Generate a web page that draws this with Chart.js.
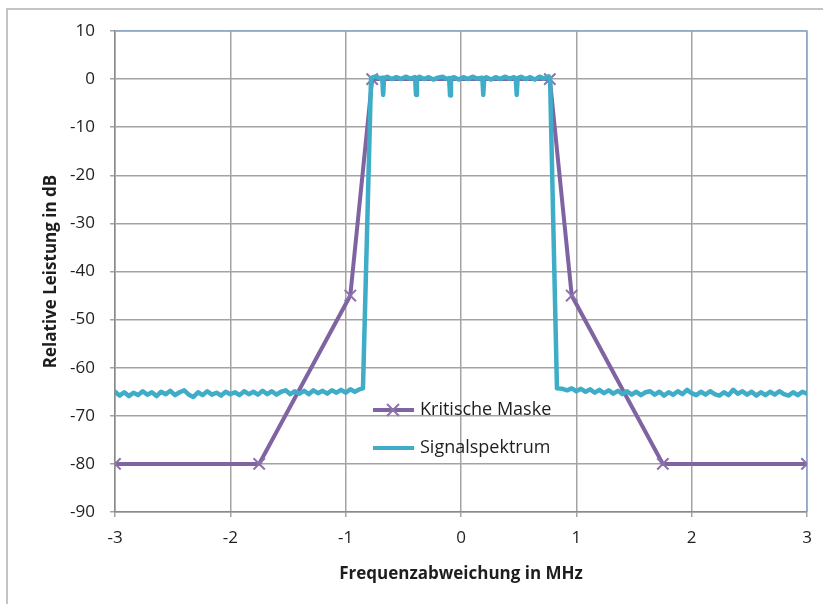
<!DOCTYPE html>
<html>
<head>
<meta charset="utf-8">
<script src="https://cdn.jsdelivr.net/npm/chart.js@4.4.1/dist/chart.umd.min.js"></script>
<style>
    html, body { margin: 0; padding: 0; background: #fff; }
</style>
</head>
<body>
<canvas id="spectrum-chart" width="823" height="604"></canvas>
<script>
// Kritische Maske (Frequenz in MHz, Pegel in dB)
const maskX = [-3, -1.75, -0.96, -0.77, 0.77, 0.96, 1.75, 3];
const maskY = [-80, -80, -45, 0, 0, -45, -80, -80];

// Signalspektrum, links vom Kanal
const signalLeftX = [-3.00, -2.96, -2.92, -2.88, -2.84, -2.80, -2.76, -2.72, -2.68, -2.64,
    -2.60, -2.56, -2.52, -2.48, -2.44, -2.40, -2.36, -2.32, -2.28, -2.24,
    -2.20, -2.16, -2.12, -2.08, -2.04, -2.00, -1.96, -1.92, -1.88, -1.84,
    -1.80, -1.76, -1.72, -1.68, -1.64, -1.60, -1.56, -1.52, -1.48, -1.44,
    -1.40, -1.36, -1.32, -1.28, -1.24, -1.20, -1.16, -1.12, -1.08, -1.04,
    -1.00, -0.96, -0.92, -0.88, -0.85];
const signalLeftY = [-65.0, -65.8, -65.1, -65.9, -65.2, -65.7, -64.9, -65.6, -65.1, -65.9,
    -65.0, -65.5, -64.8, -65.7, -65.1, -64.7, -65.6, -66.1, -65.1, -65.7,
    -64.9, -65.6, -65.2, -65.8, -65.0, -65.5, -65.1, -65.7, -64.9, -65.5,
    -65.0, -65.6, -64.8, -65.5, -64.9, -65.6, -65.0, -64.7, -65.5, -64.9,
    -65.4, -64.8, -65.5, -64.7, -65.3, -64.8, -65.4, -64.7, -65.2, -64.6,
    -65.2, -64.5, -65.0, -64.5, -64.3];

// Signalspektrum im Kanal (mit Einbrüchen)
const signalMidX = [-0.78, -0.74, -0.70, -0.683, -0.675, -0.667, -0.64, -0.60, -0.56, -0.52,
    -0.48, -0.44, -0.40, -0.398, -0.39, -0.382, -0.36, -0.32, -0.28, -0.24,
    -0.20, -0.16, -0.12, -0.103, -0.095, -0.087, -0.06, -0.02, 0.02, 0.06,
    0.10, 0.14, 0.18, 0.185, 0.193, 0.201, 0.22, 0.26, 0.30, 0.34,
    0.38, 0.42, 0.46, 0.475, 0.483, 0.491, 0.52, 0.56, 0.60, 0.64,
    0.68, 0.72, 0.76, 0.772];
const signalMidY = [0.2, 0.6, 0.1, 0.3, -3.3, 0.2, 0.5, 0.0, 0.4, 0.0,
    0.5, 0.1, 0.4, 0.2, -3.3, 0.2, 0.5, 0.0, 0.4, -0.1,
    0.3, 0.5, 0.0, 0.2, -3.4, 0.2, 0.4, -0.1, 0.4, 0.0,
    0.5, 0.1, 0.3, 0.3, -3.3, 0.1, 0.4, -0.1, 0.4, 0.0,
    0.5, 0.1, 0.4, 0.1, -3.3, 0.2, 0.5, 0.0, 0.4, -0.1,
    0.5, 0.1, 0.6, 0.2];

// Signalspektrum, rechts vom Kanal
const signalRightX = [0.832, 0.88, 0.92, 0.96, 1.00, 1.04, 1.08, 1.12, 1.16, 1.20,
    1.24, 1.28, 1.32, 1.36, 1.40, 1.44, 1.48, 1.52, 1.56, 1.60,
    1.64, 1.68, 1.72, 1.76, 1.80, 1.84, 1.88, 1.92, 1.96, 2.00,
    2.04, 2.08, 2.12, 2.16, 2.20, 2.24, 2.28, 2.32, 2.36, 2.40,
    2.44, 2.48, 2.52, 2.56, 2.60, 2.64, 2.68, 2.72, 2.76, 2.80,
    2.84, 2.88, 2.92, 2.96, 3.00];
const signalRightY = [-64.3, -64.4, -64.7, -64.3, -64.9, -64.4, -65.0, -64.5, -65.2, -64.6,
    -65.3, -64.7, -65.4, -64.8, -65.5, -64.9, -65.6, -65.0, -65.7, -65.1,
    -64.9, -65.6, -65.0, -65.8, -65.1, -65.6, -64.9, -65.5, -64.6, -65.3,
    -65.7, -65.0, -65.6, -64.9, -65.5, -65.8, -65.1, -65.7, -64.6, -65.4,
    -64.9, -65.6, -65.0, -65.8, -65.1, -65.7, -65.0, -65.6, -64.9, -65.5,
    -65.8, -65.1, -65.7, -65.0, -65.4];

const xTicks = [-3, -2, -1, 0, 1, 2, 3];
const yTicks = [10, 0, -10, -20, -30, -40, -50, -60, -70, -80, -90];

const maskColor = "#8064a2";
const signalColor = "#3fadc8";
const gridColor = "#a3a3a3";
const textColor = "#1e1e1e";
const fontFamily = "'Open Sans', sans-serif";

function toPoints(xs, ys) {
    return xs.map((x, i) => ({x: x, y: ys[i]}));
}

const signalX = signalLeftX.concat(signalMidX, signalRightX);
const signalY = signalLeftY.concat(signalMidY, signalRightY);

// outer frame + plot border (top/right are blue in the original)
const framePlugin = {
    id: "frame",
    beforeDraw(chart) {
        const c = chart.ctx;
        c.save();
        c.fillStyle = "#fff";
        c.fillRect(0, 0, chart.width, chart.height);
        c.strokeStyle = "#c4c4c4";
        c.lineWidth = 2;
        c.beginPath();
        c.moveTo(7, chart.height + 5);
        c.lineTo(7, 9);
        c.lineTo(chart.width + 5, 9);
        c.stroke();
        c.restore();
    },
    beforeDatasetsDraw(chart) {
        const a = chart.chartArea;
        const c = chart.ctx;
        c.save();
        c.strokeStyle = "#8eaad0";
        c.lineWidth = 1.5;
        c.beginPath();
        c.moveTo(a.left, a.top);
        c.lineTo(a.right, a.top);
        c.lineTo(a.right, a.bottom);
        c.stroke();
        c.restore();
    }
};

// legend drawn inside the plot area
const innerLegend = {
    id: "innerLegend",
    afterDraw(chart) {
        const c = chart.ctx;
        const rows = [
            {label: chart.data.datasets[1].label, color: maskColor, marker: true, y: 410},
            {label: chart.data.datasets[0].label, color: signalColor, marker: false, y: 448},
        ];
        c.save();
        rows.forEach(r => {
            c.strokeStyle = r.color;
            c.lineWidth = 4;
            c.beginPath();
            c.moveTo(373, r.y);
            c.lineTo(414, r.y);
            c.stroke();
            if (r.marker) {
                c.strokeStyle = "#8c72ad";
                c.lineWidth = 2;
                c.beginPath();
                c.moveTo(387, r.y - 6);
                c.lineTo(399, r.y + 6);
                c.moveTo(399, r.y - 6);
                c.lineTo(387, r.y + 6);
                c.stroke();
            }
            c.fillStyle = textColor;
            c.font = "18px " + fontFamily;
            c.textBaseline = "middle";
            c.textAlign = "left";
            c.fillText(r.label, 420, r.y);
        });
        c.restore();
    }
};

const ctx = document.getElementById("spectrum-chart").getContext("2d");
const chart = new Chart(ctx, {
    type: "scatter",
    data: {
        datasets: [{
            label: "Signalspektrum",
            data: toPoints(signalX, signalY),
            showLine: true,
            borderColor: signalColor,
            borderWidth: 4.5,
            pointRadius: 0,
            borderJoinStyle: "round",
            borderCapStyle: "round",
        }, {
            label: "Kritische Maske",
            data: toPoints(maskX, maskY),
            showLine: true,
            borderColor: maskColor,
            backgroundColor: maskColor,
            borderWidth: 4,
            pointStyle: "crossRot",
            pointRadius: 8,
            pointBorderWidth: 2,
            pointBorderColor: "#8c72ad",
        }]
    },
    options: {
        responsive: false,
        animation: false,
        devicePixelRatio: 1,
        layout: {padding: {left: 6, top: 31, right: 16, bottom: 0}},
        plugins: {legend: {display: false}, tooltip: {enabled: false}},
        scales: {
            x: {
                type: "linear",
                min: -3, max: 3,
                afterFit: (scale) => { scale.height = 92; },
                afterBuildTicks: (scale) => { scale.ticks = xTicks.map(v => ({value: v})); },
                ticks: {
                    color: textColor, padding: 11,
                    font: {family: fontFamily, size: 17},
                },
                grid: {color: gridColor, lineWidth: 1.5, tickLength: 5},
                border: {color: "#8a8a8a", width: 1.5},
                title: {
                    display: true, text: "Frequenzabweichung in MHz", color: textColor,
                    font: {family: fontFamily, size: 17, weight: "bold"},
                    padding: {top: 0, bottom: 20},
                },
            },
            y: {
                type: "linear",
                min: -90, max: 10,
                afterFit: (scale) => { scale.width = 109; },
                afterBuildTicks: (scale) => { scale.ticks = yTicks.map(v => ({value: v})); },
                ticks: {
                    color: textColor, padding: 15,
                    font: {family: fontFamily, size: 17},
                },
                grid: {color: gridColor, lineWidth: 1.5, tickLength: 5},
                border: {color: "#8a8a8a", width: 1.5},
                title: {
                    display: true, text: "Relative Leistung in dB", color: textColor,
                    font: {family: fontFamily, size: 17, weight: "bold"},
                    padding: {top: 35, bottom: 0},
                },
            },
        },
    },
    plugins: [framePlugin, innerLegend],
});
</script>
</body>
</html>
